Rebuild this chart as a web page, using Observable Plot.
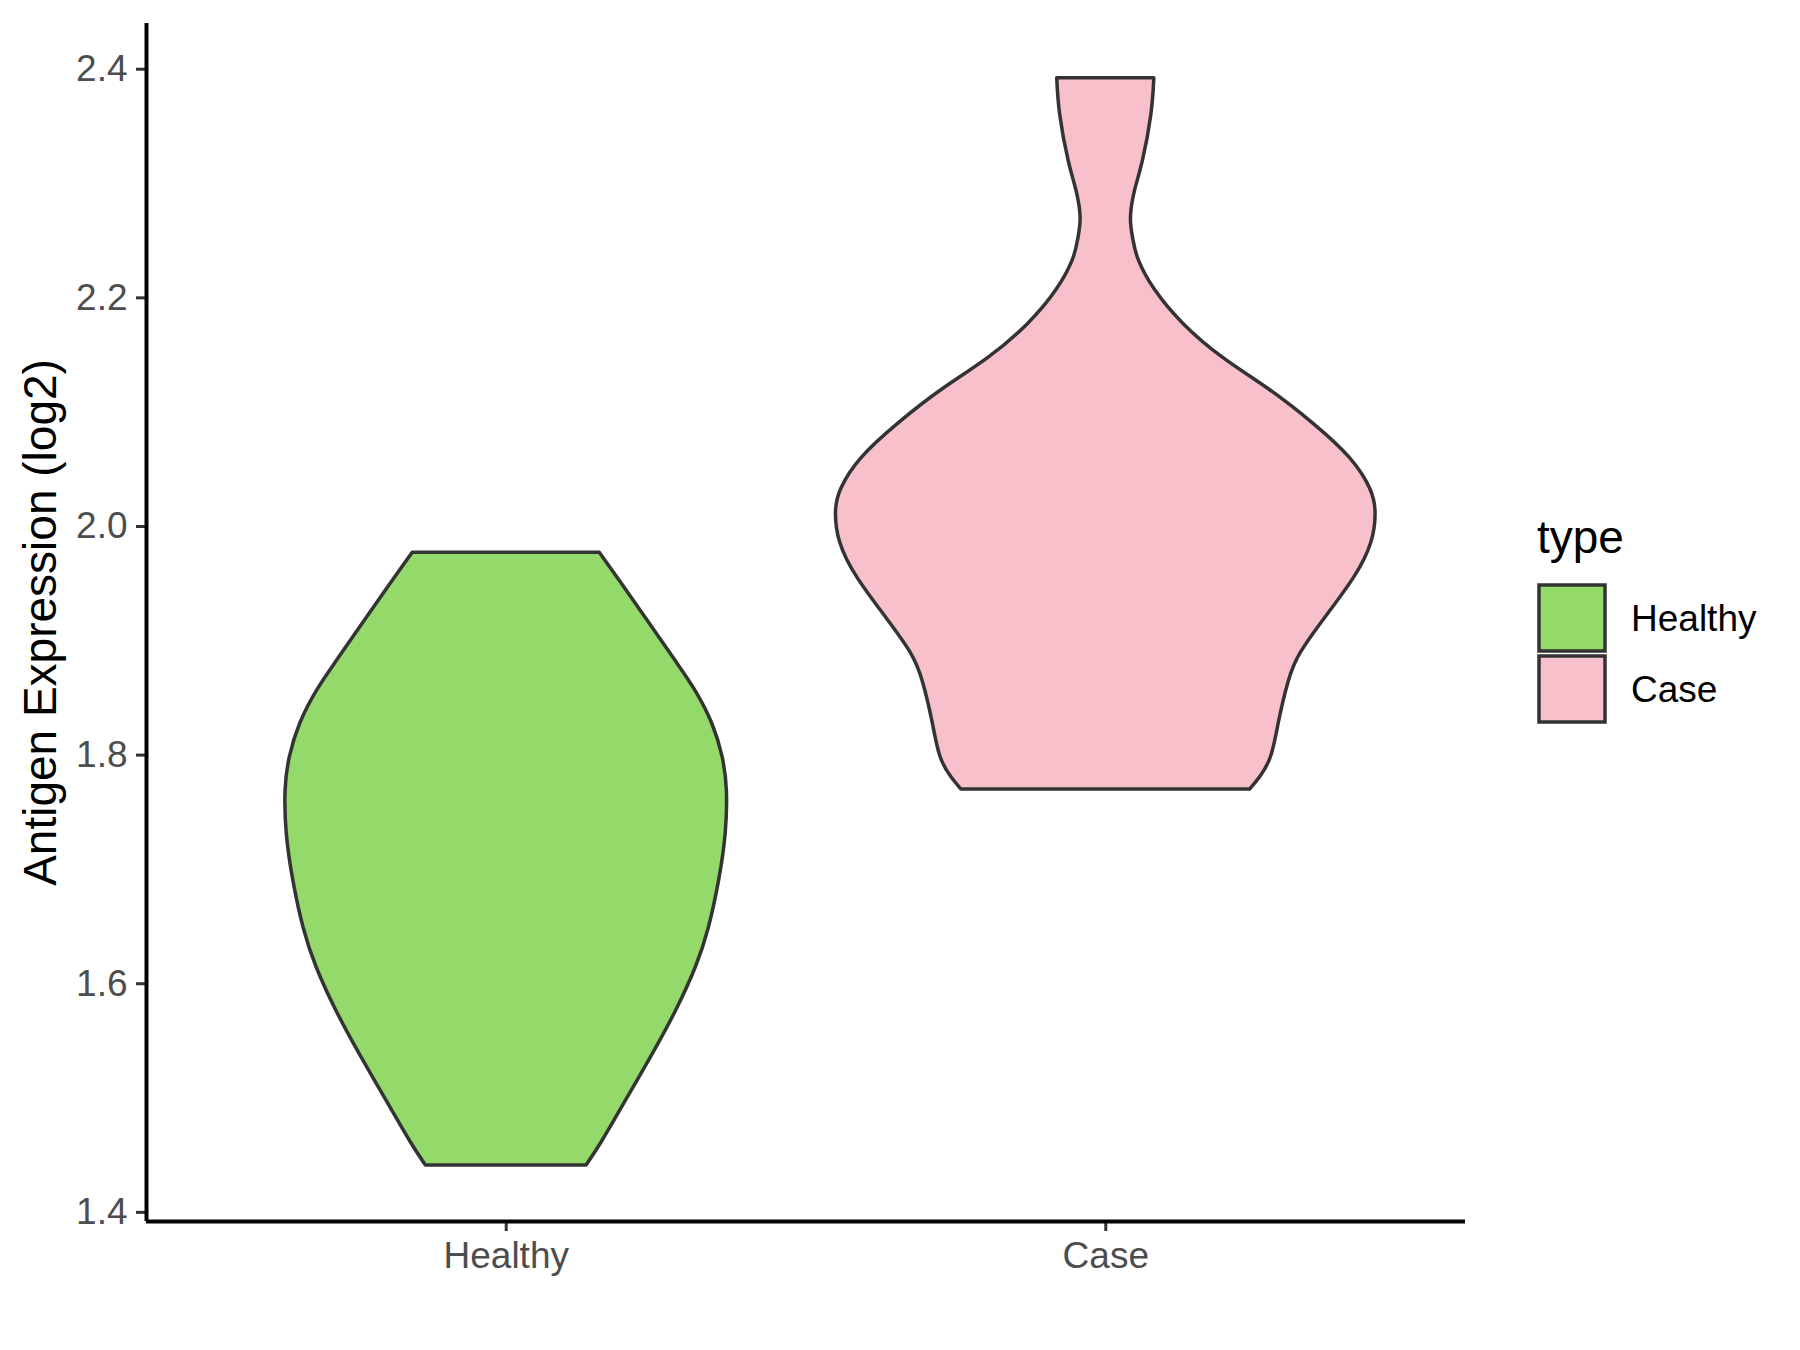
<!DOCTYPE html>
<html><head><meta charset="utf-8">
<script src="https://cdn.jsdelivr.net/npm/d3@7"></script>
<script src="https://cdn.jsdelivr.net/npm/@observablehq/plot@0.6"></script>
<style>body{margin:0;background:#fff} #chart{width:1800px;height:1350px}</style>
</head><body><div id="chart"></div>
<script>
const categories = ["Healthy", "Case"];
const colors = ["#93DA6A", "#F8C0CB"];
const yTicks = [1.4, 1.6, 1.8, 2.0, 2.2, 2.4];
const legendTitle = "type";
const yTitle = "Antigen Expression (log2)";

// violin outline: expression value and half-width (in category units)
const healthyY    = [1.977, 1.949, 1.916, 1.882, 1.856, 1.827, 1.798, 1.769, 1.731, 1.690, 1.649, 1.614, 1.576, 1.538, 1.497, 1.462, 1.441];
const healthyHalf = [0.156, 0.194, 0.238, 0.283, 0.316, 0.344, 0.361, 0.368, 0.366, 0.355, 0.338, 0.316, 0.283, 0.244, 0.199, 0.160, 0.134];
const caseY    = [2.392, 2.360, 2.320, 2.294, 2.270, 2.251, 2.233, 2.207, 2.177, 2.147, 2.120, 2.090, 2.060, 2.033, 2.012, 1.986, 1.955, 1.920, 1.890, 1.864, 1.829, 1.799, 1.781, 1.770];
const caseHalf = [0.081, 0.076, 0.062, 0.049, 0.042, 0.046, 0.055, 0.082, 0.130, 0.197, 0.272, 0.346, 0.407, 0.441, 0.450, 0.443, 0.414, 0.366, 0.326, 0.305, 0.289, 0.276, 0.258, 0.241];

const rows = [];
[[healthyY, healthyHalf], [caseY, caseHalf]].forEach(([ys, hs], i) => {
  ys.forEach((y, j) => rows.push({type: categories[i], y, x1: i + 1 - hs[j], x2: i + 1 + hs[j]}));
});

const font = "'Liberation Sans', Arial, Helvetica, sans-serif";
const plot = Plot.plot({
  width: 1800, height: 1350,
  marginLeft: 146, marginRight: 335, marginTop: 23, marginBottom: 129,
  style: {fontFamily: font, fontSize: "37px", background: "#fff", overflow: "visible"},
  x: {domain: [0.4, 2.6]},
  y: {domain: [1.392, 2.44]},
  color: {domain: categories, range: colors},
  marks: [
    Plot.areaX(rows, {y: "y", x1: "x1", x2: "x2", z: "type", fill: "type", stroke: "#333333", strokeWidth: 3.5, curve: "natural"}),
    Plot.axisY({ticks: yTicks, tickFormat: d3.format(".1f"), tickSize: 10, tickPadding: 9, label: null, fill: "#4D4D4D", stroke: "#333333", strokeWidth: 3, fontSize: 37}),
    Plot.axisX({ticks: [1, 2], tickFormat: d => categories[d - 1], tickSize: 10, tickPadding: 10, label: null, fill: "#4D4D4D", stroke: "#333333", strokeWidth: 3, fontSize: 37}),
    Plot.ruleX([0.4], {stroke: "#000", strokeWidth: 4}),
    Plot.ruleY([1.392], {stroke: "#000", strokeWidth: 4}),
    Plot.text([yTitle], {text: d => d, frameAnchor: "left", textAnchor: "middle", dx: -105, rotate: -90, fontSize: 46, fill: "#000"})
  ]
});

// legend drawn inside the svg
const svg = d3.select(plot);
const lg = svg.append("g").attr("font-family", font).attr("text-anchor", "start");
lg.append("text").attr("x", 1537).attr("y", 553).attr("font-size", 46).attr("fill", "#000").text(legendTitle);
const cs = plot.scale("color");
categories.forEach((c, i) => {
  const y0 = 585 + i * 71;
  lg.append("rect").attr("x", 1539).attr("y", y0).attr("width", 66).attr("height", 66)
    .attr("fill", colors[cs.domain.indexOf(c)]).attr("stroke", "#333333").attr("stroke-width", 3.5);
  lg.append("text").attr("x", 1631).attr("y", y0 + 33).attr("dy", "0.35em")
    .attr("font-size", 37).attr("fill", "#000").text(c);
});

document.getElementById("chart").appendChild(plot);
</script>
</body></html>
